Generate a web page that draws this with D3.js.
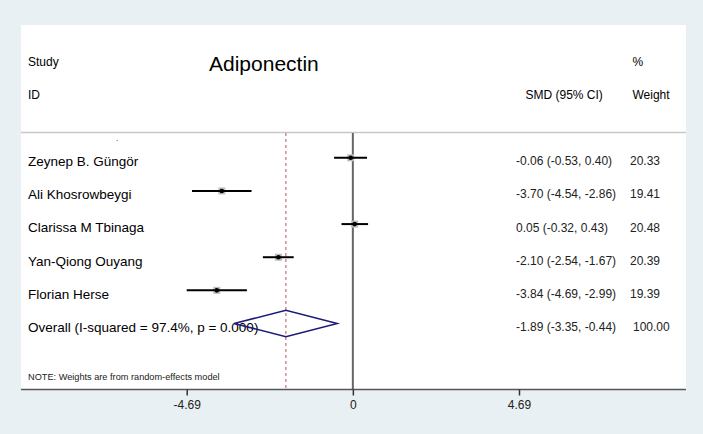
<!DOCTYPE html>
<html><head><meta charset="utf-8">
<script src="https://cdn.jsdelivr.net/npm/d3@7"></script>
<style>
html,body{margin:0;padding:0;background:#e8f0f3;}
svg{display:block;font-family:Arial,"Liberation Sans",Helvetica,sans-serif;}
</style></head>
<body>
<script>
const studies = ["Zeynep B. Güngör","Ali Khosrowbeygi","Clarissa M Tbinaga","Yan-Qiong Ouyang","Florian Herse"];
const smd = [-0.06,-3.70,0.05,-2.10,-3.84];
const lower = [-0.53,-4.54,-0.32,-2.54,-4.69];
const upper = [0.40,-2.86,0.43,-1.67,-2.99];
const weights = ["20.33","19.41","20.48","20.39","19.39"];
const overallLabel = "Overall (I-squared = 97.4%, p = 0.000)";
const overall = {est:-1.89, lo:-3.35, hi:-0.44, w:"100.00"};
const tickValues = [-4.69, 0, 4.69];
const tickLabels = ["-4.69","0","4.69"];

const W=703,H=434;
const svg=d3.select("body").append("svg").attr("width",W).attr("height",H);
const panel={x0:21,x1:686,y0:25,y1:389.5};
svg.append("rect").attr("x",panel.x0).attr("y",panel.y0).attr("width",panel.x1-panel.x0).attr("height",panel.y1-panel.y0).attr("fill","#fff");

const x=d3.scaleLinear().domain([-4.69,4.69]).range([186.7,519]);
const y=d3.scalePoint().domain(d3.range(6)).range([157.8,323.5]);
const f=v=>v.toFixed(2);

// header
svg.append("text").attr("x",28).attr("y",66).attr("font-size",12).text("Study");
svg.append("text").attr("x",28).attr("y",99).attr("font-size",12).text("ID");
svg.append("text").attr("x",209).attr("y",71).attr("font-size",21).text("Adiponectin");
svg.append("text").attr("x",632.5).attr("y",66).attr("font-size",12).text("%");
svg.append("text").attr("x",632.5).attr("y",99).attr("font-size",12).text("Weight");
svg.append("text").attr("x",525.5).attr("y",99).attr("font-size",12).text("SMD (95% CI)");

// separator
svg.append("line").attr("x1",panel.x0).attr("x2",panel.x1).attr("y1",132.5).attr("y2",132.5).attr("stroke","#c8c8c8").attr("stroke-width",1.5);
svg.append("text").attr("x",116).attr("y",141).attr("font-size",8).text(".");

// zero line
svg.append("line").attr("x1",x(0)).attr("x2",x(0)).attr("y1",133).attr("y2",panel.y1).attr("stroke","#666").attr("stroke-width",2);
// overall dashed
svg.append("line").attr("x1",x(overall.est)).attr("x2",x(overall.est)).attr("y1",133).attr("y2",panel.y1).attr("stroke","#b5565b").attr("stroke-width",1).attr("stroke-dasharray","3,3");

// study rows
const g=svg.append("g");
studies.forEach((s,i)=>{
  const yy=y(i);
  g.append("text").attr("x",28).attr("y",yy+8.3).attr("font-size",13.5).text(s);
  g.append("rect").attr("x",x(smd[i])-3.5).attr("y",yy-3.5).attr("width",7).attr("height",7).attr("fill","#bdbdbd");
  g.append("line").attr("x1",x(lower[i])).attr("x2",x(upper[i])).attr("y1",yy).attr("y2",yy).attr("stroke","#000").attr("stroke-width",2);
  g.append("circle").attr("cx",x(smd[i])).attr("cy",yy).attr("r",2.3).attr("fill","#000");
  g.append("text").attr("x",516).attr("y",yy+7.5).attr("font-size",12).attr("fill","#222")
    .text(`${f(smd[i])} (${f(lower[i])}, ${f(upper[i])})`);
  g.append("text").attr("x",630).attr("y",yy+7.5).attr("font-size",12).attr("fill","#222").text(weights[i]);
});

// overall
const yo=y(5);
svg.append("text").attr("x",28).attr("y",yo+8.8).attr("font-size",13.5).text(overallLabel);
svg.append("path").attr("d",`M${x(overall.lo)},${yo}L${x(overall.est)},${yo-13.3}L${x(overall.hi)},${yo}L${x(overall.est)},${yo+13.3}Z`)
  .attr("fill","none").attr("stroke","#1a1a7a").attr("stroke-width",1.5);
svg.append("text").attr("x",516).attr("y",yo+7.5).attr("font-size",12).attr("fill","#222").text(`${f(overall.est)} (${f(overall.lo)}, ${f(overall.hi)})`);
svg.append("text").attr("x",633).attr("y",yo+7.5).attr("font-size",12).attr("fill","#222").text(overall.w);

svg.append("text").attr("x",28).attr("y",380).attr("font-size",9.2).attr("fill","#222").text("NOTE: Weights are from random-effects model");

// axis
svg.append("line").attr("x1",panel.x0).attr("x2",panel.x1).attr("y1",panel.y1).attr("y2",panel.y1).attr("stroke","#555").attr("stroke-width",1.5);
const ax=svg.append("g").attr("transform",`translate(0,${panel.y1})`)
  .call(d3.axisBottom(x).tickValues(tickValues).tickFormat((d,i)=>tickLabels[i]).tickSize(6).tickPadding(5));
ax.select(".domain").remove();
ax.selectAll(".tick line").attr("stroke","#333").attr("stroke-width",1.5);
ax.selectAll(".tick text").attr("font-size",12).attr("font-family","Arial,'Liberation Sans',sans-serif").attr("fill","#222");
</script>
</body></html>
